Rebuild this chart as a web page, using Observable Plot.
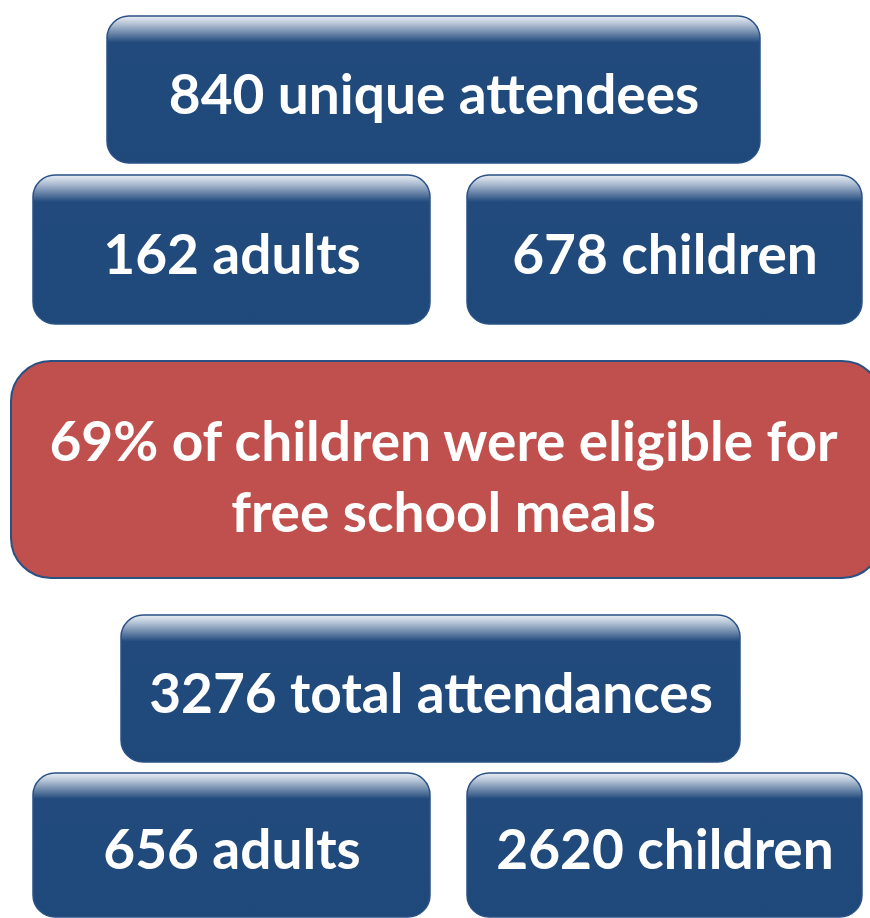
<!DOCTYPE html>
<html><head><meta charset="utf-8">
<script src="https://cdn.jsdelivr.net/npm/d3@7"></script>
<script src="https://cdn.jsdelivr.net/npm/@observablehq/plot@0.6"></script>
<style>body{margin:0;background:#fff}</style>
</head><body><div id="chart"></div>
<script>
// Data
const counts = [840, 162, 678, 69, 3276, 656, 2620];
const suffixes = [" unique attendees", " adults", " children", "% of children were eligible for\nfree school meals", " total attendances", " adults", " children"];
const kinds = ["blue", "blue", "blue", "red", "blue", "blue", "blue"];

// Layout (boxes in page pixels)
const layout = [
  {x1: 107, x2: 760, y1: 16, y2: 163, r: 22},
  {x1: 33, x2: 430, y1: 175, y2: 324, r: 22},
  {x1: 467, x2: 862, y1: 175, y2: 324, r: 22},
  {x1: 11, x2: 882, y1: 361, y2: 578, r: 40},
  {x1: 121, x2: 740, y1: 615, y2: 762, r: 22},
  {x1: 33, x2: 430, y1: 773, y2: 917, r: 22},
  {x1: 467, x2: 862, y1: 773, y2: 917, r: 22}
];

const rows = counts.map((c, i) => ({
  text: `${c}${suffixes[i]}`,
  kind: kinds[i],
  ...layout[i],
  cx: (layout[i].x1 + Math.min(layout[i].x2, 875)) / 2,
  cy: (layout[i].y1 + layout[i].y2) / 2 + (kinds[i] === "red" ? 4 : 1)
}));

const fontFamily = "Lato, 'Open Sans', sans-serif";
const fontSize = 55;

const plot = Plot.plot({
  width: 870, height: 918,
  margin: 0,
  x: {domain: [0, 870], range: [0, 870], axis: null},
  y: {domain: [0, 918], range: [0, 918], axis: null},
  style: {background: "white", fontFamily},
  marks: [
    ...rows.map(d => Plot.rect([d], {
      x1: "x1", x2: "x2", y1: "y1", y2: "y2",
      rx: d.r, ry: d.r,
      fill: d.kind === "red" ? "#c0504d" : "url(#gloss)",
      stroke: d.kind === "red" ? "#2a5183" : "#2a5185",
      strokeWidth: d.kind === "red" ? 2 : 1.5
    })),
    Plot.text(rows, {
      x: "cx", y: "cy", text: "text",
      fill: "white", fontSize, fontWeight: "bold",
      lineHeight: 1.29, textAnchor: "middle", lineAnchor: "middle"
    })
  ]
});

d3.select(plot).insert("defs", ":first-child").html(`
  <linearGradient id="gloss" x1="0" y1="0" x2="0" y2="1">
    <stop offset="0" stop-color="#e9eef4"/>
    <stop offset="0.05" stop-color="#b8c6d8"/>
    <stop offset="0.18" stop-color="#224a7d"/>
    <stop offset="1" stop-color="#1f497b"/>
  </linearGradient>`);

document.getElementById("chart").appendChild(plot);
</script>
</body></html>
